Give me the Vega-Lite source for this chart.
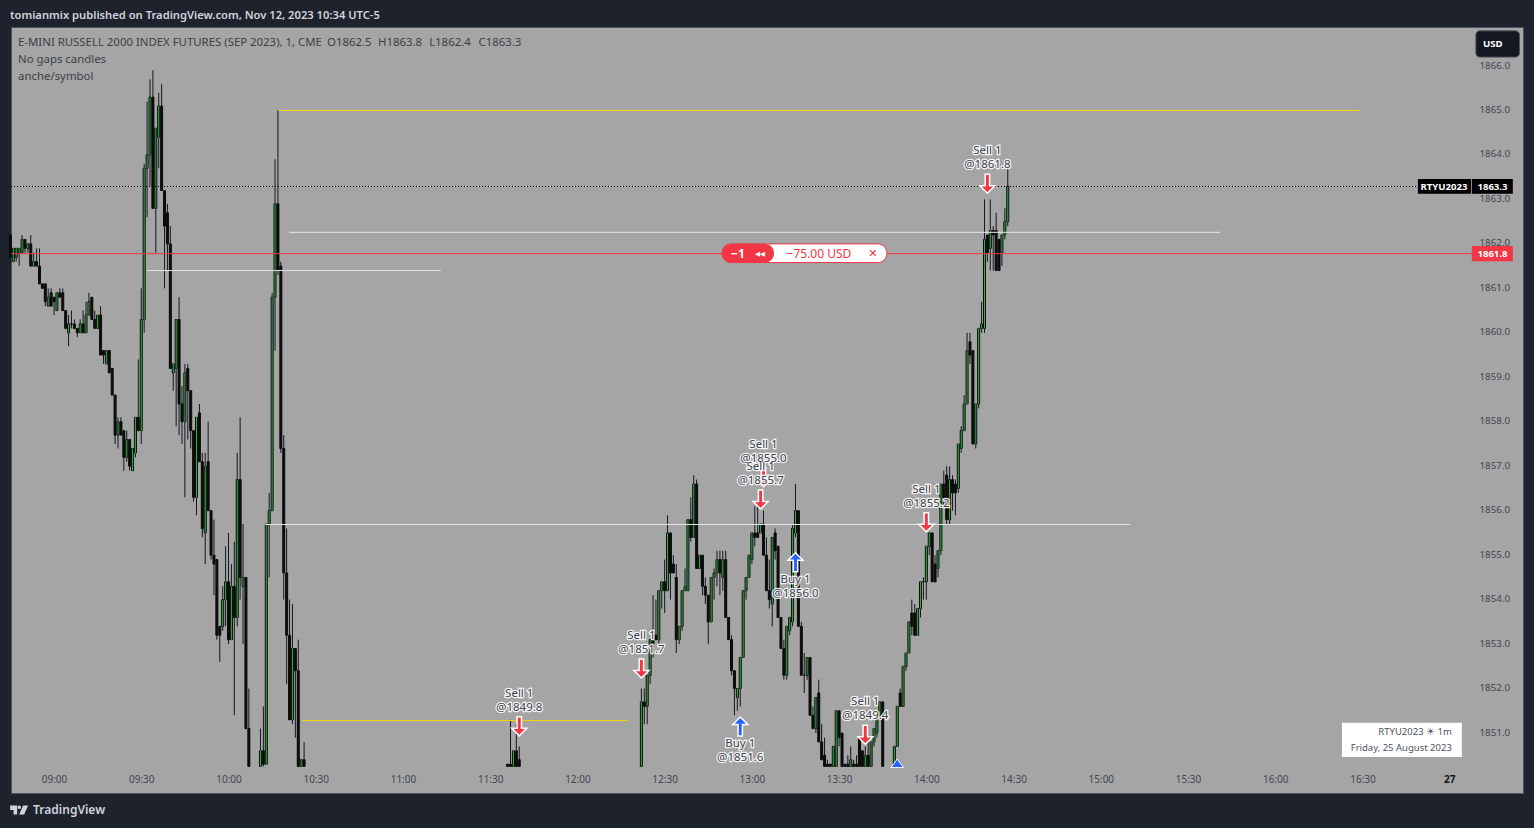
{
"$schema":"https://vega.github.io/schema/vega-lite/v6.json",
"width":1512,"height":766,
"autosize":{"type":"none"},
"padding":{"left":11,"top":27,"right":11,"bottom":35},
"background":"#1e222d",
"view":{"fill":"#a5a5a5","stroke":"#50535e","strokeWidth":1},
"title":{"text":"tomianmix published on TradingView.com, Nov 12, 2023 10:34 UTC-5","anchor":"start","frame":"group","dx":-1,"offset":6,"font":"Noto Sans","fontSize":11.2,"fontWeight":600,"color":"#d1d4dc"},
"datasets":{
"candles":[
{"t":"2023-08-25T08:45","o":1862.2,"h":1862.2,"l":1861.7,"c":1861.7},
{"t":"2023-08-25T08:46","o":1861.6,"h":1861.9,"l":1861.6,"c":1861.9},
{"t":"2023-08-25T08:47","o":1861.7,"h":1861.9,"l":1861.6,"c":1861.9},
{"t":"2023-08-25T08:48","o":1861.8,"h":1861.9,"l":1861.5,"c":1861.9},
{"t":"2023-08-25T08:49","o":1861.8,"h":1862.2,"l":1861.8,"c":1862.1},
{"t":"2023-08-25T08:50","o":1862.1,"h":1862.1,"l":1861.8,"c":1861.9},
{"t":"2023-08-25T08:51","o":1861.9,"h":1862.0,"l":1861.8,"c":1862.0},
{"t":"2023-08-25T08:52","o":1862.0,"h":1862.2,"l":1861.5,"c":1861.5},
{"t":"2023-08-25T08:53","o":1861.5,"h":1861.8,"l":1861.5,"c":1861.6},
{"t":"2023-08-25T08:54","o":1861.6,"h":1861.9,"l":1861.5,"c":1861.5},
{"t":"2023-08-25T08:55","o":1861.5,"h":1861.9,"l":1861.1,"c":1861.1},
{"t":"2023-08-25T08:56","o":1861.1,"h":1861.1,"l":1861.0,"c":1861.0},
{"t":"2023-08-25T08:57","o":1861.1,"h":1861.1,"l":1860.6,"c":1860.7},
{"t":"2023-08-25T08:58","o":1860.6,"h":1861.0,"l":1860.6,"c":1860.8},
{"t":"2023-08-25T08:59","o":1860.9,"h":1861.0,"l":1860.6,"c":1860.6},
{"t":"2023-08-25T09:00","o":1860.8,"h":1860.8,"l":1860.4,"c":1860.7},
{"t":"2023-08-25T09:01","o":1860.5,"h":1860.9,"l":1860.5,"c":1860.9},
{"t":"2023-08-25T09:02","o":1860.9,"h":1861.0,"l":1860.8,"c":1860.8},
{"t":"2023-08-25T09:03","o":1860.9,"h":1861.0,"l":1860.5,"c":1860.5},
{"t":"2023-08-25T09:04","o":1860.5,"h":1860.5,"l":1860.1,"c":1860.1},
{"t":"2023-08-25T09:05","o":1860.0,"h":1860.4,"l":1859.7,"c":1860.2},
{"t":"2023-08-25T09:06","o":1860.2,"h":1860.5,"l":1860.1,"c":1860.2},
{"t":"2023-08-25T09:07","o":1860.2,"h":1860.3,"l":1860.1,"c":1860.1},
{"t":"2023-08-25T09:08","o":1860.1,"h":1860.1,"l":1859.9,"c":1860.0},
{"t":"2023-08-25T09:09","o":1860.0,"h":1860.3,"l":1860.0,"c":1860.2},
{"t":"2023-08-25T09:10","o":1860.2,"h":1860.5,"l":1860.0,"c":1860.0},
{"t":"2023-08-25T09:11","o":1860.0,"h":1860.7,"l":1860.0,"c":1860.4},
{"t":"2023-08-25T09:12","o":1860.4,"h":1860.9,"l":1860.4,"c":1860.7},
{"t":"2023-08-25T09:13","o":1860.8,"h":1860.8,"l":1860.3,"c":1860.3},
{"t":"2023-08-25T09:14","o":1860.3,"h":1860.5,"l":1860.1,"c":1860.1},
{"t":"2023-08-25T09:15","o":1860.1,"h":1860.4,"l":1860.1,"c":1860.4},
{"t":"2023-08-25T09:16","o":1860.4,"h":1860.6,"l":1859.5,"c":1859.5},
{"t":"2023-08-25T09:17","o":1859.6,"h":1859.6,"l":1859.3,"c":1859.5},
{"t":"2023-08-25T09:18","o":1859.3,"h":1859.6,"l":1859.3,"c":1859.6},
{"t":"2023-08-25T09:19","o":1859.6,"h":1859.6,"l":1859.1,"c":1859.1},
{"t":"2023-08-25T09:20","o":1859.2,"h":1859.2,"l":1858.6,"c":1858.6},
{"t":"2023-08-25T09:21","o":1858.6,"h":1858.6,"l":1857.5,"c":1857.7},
{"t":"2023-08-25T09:22","o":1857.7,"h":1858.1,"l":1857.4,"c":1858.0},
{"t":"2023-08-25T09:23","o":1858.0,"h":1858.1,"l":1857.7,"c":1857.7},
{"t":"2023-08-25T09:24","o":1857.8,"h":1857.8,"l":1856.9,"c":1857.2},
{"t":"2023-08-25T09:25","o":1857.2,"h":1857.8,"l":1857.1,"c":1857.6},
{"t":"2023-08-25T09:26","o":1857.6,"h":1857.6,"l":1856.9,"c":1857.0},
{"t":"2023-08-25T09:27","o":1856.9,"h":1857.4,"l":1856.9,"c":1857.4},
{"t":"2023-08-25T09:28","o":1857.3,"h":1858.1,"l":1857.2,"c":1858.1},
{"t":"2023-08-25T09:29","o":1858.1,"h":1859.4,"l":1857.8,"c":1857.8},
{"t":"2023-08-25T09:30","o":1857.8,"h":1861.0,"l":1857.5,"c":1860.3},
{"t":"2023-08-25T09:31","o":1860.3,"h":1863.8,"l":1860.0,"c":1863.7},
{"t":"2023-08-25T09:32","o":1863.7,"h":1865.2,"l":1862.6,"c":1864.0},
{"t":"2023-08-25T09:33","o":1864.0,"h":1865.7,"l":1863.3,"c":1865.3},
{"t":"2023-08-25T09:34","o":1865.3,"h":1865.9,"l":1862.8,"c":1862.8},
{"t":"2023-08-25T09:35","o":1862.8,"h":1864.6,"l":1861.8,"c":1864.6},
{"t":"2023-08-25T09:36","o":1864.4,"h":1865.4,"l":1863.7,"c":1865.1},
{"t":"2023-08-25T09:37","o":1865.1,"h":1865.6,"l":1863.2,"c":1863.2},
{"t":"2023-08-25T09:38","o":1863.2,"h":1863.2,"l":1861.0,"c":1862.4},
{"t":"2023-08-25T09:39","o":1862.7,"h":1862.9,"l":1861.4,"c":1862.0},
{"t":"2023-08-25T09:40","o":1862.0,"h":1862.4,"l":1859.2,"c":1859.2},
{"t":"2023-08-25T09:41","o":1859.1,"h":1859.3,"l":1858.7,"c":1859.3},
{"t":"2023-08-25T09:42","o":1859.2,"h":1860.3,"l":1857.9,"c":1860.3},
{"t":"2023-08-25T09:43","o":1860.3,"h":1860.8,"l":1857.7,"c":1858.4},
{"t":"2023-08-25T09:44","o":1858.4,"h":1858.8,"l":1857.5,"c":1858.0},
{"t":"2023-08-25T09:45","o":1858.0,"h":1859.3,"l":1856.3,"c":1859.1},
{"t":"2023-08-25T09:46","o":1859.2,"h":1859.3,"l":1857.6,"c":1858.7},
{"t":"2023-08-25T09:47","o":1858.7,"h":1858.7,"l":1857.4,"c":1857.8},
{"t":"2023-08-25T09:48","o":1857.8,"h":1857.8,"l":1856.2,"c":1856.3},
{"t":"2023-08-25T09:49","o":1856.3,"h":1858.1,"l":1855.9,"c":1858.1},
{"t":"2023-08-25T09:50","o":1858.2,"h":1858.4,"l":1857.1,"c":1857.1},
{"t":"2023-08-25T09:51","o":1857.1,"h":1857.3,"l":1855.4,"c":1855.6},
{"t":"2023-08-25T09:52","o":1855.5,"h":1857.3,"l":1854.8,"c":1857.0},
{"t":"2023-08-25T09:53","o":1857.1,"h":1858.0,"l":1856.0,"c":1856.0},
{"t":"2023-08-25T09:54","o":1856.0,"h":1856.0,"l":1854.9,"c":1855.0},
{"t":"2023-08-25T09:55","o":1855.0,"h":1855.8,"l":1854.1,"c":1854.8},
{"t":"2023-08-25T09:56","o":1854.9,"h":1854.9,"l":1853.1,"c":1853.2},
{"t":"2023-08-25T09:57","o":1853.4,"h":1853.4,"l":1852.6,"c":1853.2},
{"t":"2023-08-25T09:58","o":1853.4,"h":1854.3,"l":1853.3,"c":1854.0},
{"t":"2023-08-25T09:59","o":1854.0,"h":1855.2,"l":1853.4,"c":1854.4},
{"t":"2023-08-25T10:00","o":1854.4,"h":1855.5,"l":1853.0,"c":1853.1},
{"t":"2023-08-25T10:01","o":1853.1,"h":1854.8,"l":1853.1,"c":1854.3},
{"t":"2023-08-25T10:02","o":1854.3,"h":1855.3,"l":1851.4,"c":1853.6},
{"t":"2023-08-25T10:03","o":1853.6,"h":1857.3,"l":1853.4,"c":1856.7},
{"t":"2023-08-25T10:04","o":1856.7,"h":1858.1,"l":1854.0,"c":1854.5},
{"t":"2023-08-25T10:05","o":1854.3,"h":1855.7,"l":1853.0,"c":1854.5},
{"t":"2023-08-25T10:06","o":1854.5,"h":1854.5,"l":1851.1,"c":1851.1},
{"t":"2023-08-25T10:07","o":1851.1,"h":1852.0,"l":1850.25,"c":1850.25},
{"t":"2023-08-25T10:11","o":1850.25,"h":1851.1,"l":1850.25,"c":1850.6},
{"t":"2023-08-25T10:12","o":1850.6,"h":1851.6,"l":1850.25,"c":1850.3},
{"t":"2023-08-25T10:13","o":1850.3,"h":1855.7,"l":1850.3,"c":1855.7},
{"t":"2023-08-25T10:14","o":1855.7,"h":1856.4,"l":1854.5,"c":1856.0},
{"t":"2023-08-25T10:15","o":1856.0,"h":1860.9,"l":1856.0,"c":1860.8},
{"t":"2023-08-25T10:16","o":1860.8,"h":1863.9,"l":1859.6,"c":1862.9},
{"t":"2023-08-25T10:17","o":1862.9,"h":1865.0,"l":1861.3,"c":1861.4},
{"t":"2023-08-25T10:18","o":1861.5,"h":1861.6,"l":1857.3,"c":1857.4},
{"t":"2023-08-25T10:19","o":1857.4,"h":1857.7,"l":1854.0,"c":1854.6},
{"t":"2023-08-25T10:20","o":1854.6,"h":1855.6,"l":1852.1,"c":1853.2},
{"t":"2023-08-25T10:21","o":1853.2,"h":1854.0,"l":1851.3,"c":1851.3},
{"t":"2023-08-25T10:22","o":1851.3,"h":1853.9,"l":1851.2,"c":1852.9},
{"t":"2023-08-25T10:23","o":1852.9,"h":1852.9,"l":1850.9,"c":1852.4},
{"t":"2023-08-25T10:24","o":1852.4,"h":1853.1,"l":1850.25,"c":1850.25},
{"t":"2023-08-25T10:25","o":1850.25,"h":1850.4,"l":1850.25,"c":1850.4},
{"t":"2023-08-25T10:26","o":1850.4,"h":1850.8,"l":1850.25,"c":1850.25},
{"t":"2023-08-25T11:36","o":1850.3,"h":1850.3,"l":1850.25,"c":1850.25},
{"t":"2023-08-25T11:37","o":1850.3,"h":1851.3,"l":1850.25,"c":1850.25},
{"t":"2023-08-25T11:38","o":1850.25,"h":1850.6,"l":1850.25,"c":1850.6},
{"t":"2023-08-25T11:39","o":1850.6,"h":1851.2,"l":1850.25,"c":1850.25},
{"t":"2023-08-25T11:40","o":1850.4,"h":1850.7,"l":1850.25,"c":1850.25},
{"t":"2023-08-25T12:22","o":1850.25,"h":1852.0,"l":1850.25,"c":1851.7},
{"t":"2023-08-25T12:23","o":1851.7,"h":1852.0,"l":1851.2,"c":1851.6},
{"t":"2023-08-25T12:24","o":1851.6,"h":1852.3,"l":1851.2,"c":1852.3},
{"t":"2023-08-25T12:25","o":1852.3,"h":1853.1,"l":1852.1,"c":1853.1},
{"t":"2023-08-25T12:26","o":1853.1,"h":1854.1,"l":1852.7,"c":1853.0},
{"t":"2023-08-25T12:27","o":1853.2,"h":1854.0,"l":1853.1,"c":1853.1},
{"t":"2023-08-25T12:28","o":1853.1,"h":1854.2,"l":1853.0,"c":1854.2},
{"t":"2023-08-25T12:29","o":1854.2,"h":1854.4,"l":1853.8,"c":1854.4},
{"t":"2023-08-25T12:30","o":1854.4,"h":1854.9,"l":1853.7,"c":1854.2},
{"t":"2023-08-25T12:31","o":1854.2,"h":1855.9,"l":1854.2,"c":1855.5},
{"t":"2023-08-25T12:32","o":1855.5,"h":1855.5,"l":1854.0,"c":1854.6},
{"t":"2023-08-25T12:33","o":1854.8,"h":1855.0,"l":1854.6,"c":1854.6},
{"t":"2023-08-25T12:34","o":1854.5,"h":1854.8,"l":1852.8,"c":1853.1},
{"t":"2023-08-25T12:35","o":1853.1,"h":1853.4,"l":1853.0,"c":1853.4},
{"t":"2023-08-25T12:36","o":1853.4,"h":1854.2,"l":1853.3,"c":1854.2},
{"t":"2023-08-25T12:37","o":1854.2,"h":1854.7,"l":1854.2,"c":1854.3},
{"t":"2023-08-25T12:38","o":1854.2,"h":1855.8,"l":1854.2,"c":1855.8},
{"t":"2023-08-25T12:39","o":1855.8,"h":1856.3,"l":1855.3,"c":1855.4},
{"t":"2023-08-25T12:40","o":1855.4,"h":1856.8,"l":1855.4,"c":1856.6},
{"t":"2023-08-25T12:41","o":1856.6,"h":1856.7,"l":1854.7,"c":1854.7},
{"t":"2023-08-25T12:42","o":1854.7,"h":1855.0,"l":1854.7,"c":1855.0},
{"t":"2023-08-25T12:43","o":1855.0,"h":1855.0,"l":1854.1,"c":1854.3},
{"t":"2023-08-25T12:44","o":1854.3,"h":1854.5,"l":1853.9,"c":1854.1},
{"t":"2023-08-25T12:45","o":1854.1,"h":1854.1,"l":1853.0,"c":1853.5},
{"t":"2023-08-25T12:46","o":1853.5,"h":1854.5,"l":1853.5,"c":1854.5},
{"t":"2023-08-25T12:47","o":1854.5,"h":1854.7,"l":1854.0,"c":1854.6},
{"t":"2023-08-25T12:48","o":1854.6,"h":1855.1,"l":1854.3,"c":1854.9},
{"t":"2023-08-25T12:49","o":1854.9,"h":1855.1,"l":1854.1,"c":1854.6},
{"t":"2023-08-25T12:50","o":1854.5,"h":1855.1,"l":1854.2,"c":1854.9},
{"t":"2023-08-25T12:51","o":1854.9,"h":1855.1,"l":1853.6,"c":1853.6},
{"t":"2023-08-25T12:52","o":1853.6,"h":1853.6,"l":1853.1,"c":1853.1},
{"t":"2023-08-25T12:53","o":1853.1,"h":1853.2,"l":1852.3,"c":1852.4},
{"t":"2023-08-25T12:54","o":1852.4,"h":1852.4,"l":1851.4,"c":1852.0},
{"t":"2023-08-25T12:55","o":1851.8,"h":1852.0,"l":1851.5,"c":1852.0},
{"t":"2023-08-25T12:56","o":1852.0,"h":1852.7,"l":1851.6,"c":1852.7},
{"t":"2023-08-25T12:57","o":1852.7,"h":1854.2,"l":1852.7,"c":1854.2},
{"t":"2023-08-25T12:58","o":1854.2,"h":1854.5,"l":1854.0,"c":1854.5},
{"t":"2023-08-25T12:59","o":1854.5,"h":1855.0,"l":1854.5,"c":1855.0},
{"t":"2023-08-25T13:00","o":1854.9,"h":1855.5,"l":1854.8,"c":1855.5},
{"t":"2023-08-25T13:01","o":1855.5,"h":1856.1,"l":1855.2,"c":1855.4},
{"t":"2023-08-25T13:02","o":1855.5,"h":1856.1,"l":1855.4,"c":1855.4},
{"t":"2023-08-25T13:03","o":1855.5,"h":1855.7,"l":1855.5,"c":1855.7},
{"t":"2023-08-25T13:04","o":1855.7,"h":1856.0,"l":1855.0,"c":1855.0},
{"t":"2023-08-25T13:05","o":1855.0,"h":1855.4,"l":1854.2,"c":1854.2},
{"t":"2023-08-25T13:06","o":1854.2,"h":1854.9,"l":1853.8,"c":1854.0},
{"t":"2023-08-25T13:07","o":1853.9,"h":1855.4,"l":1853.4,"c":1855.4},
{"t":"2023-08-25T13:08","o":1855.5,"h":1855.6,"l":1854.9,"c":1855.1},
{"t":"2023-08-25T13:09","o":1855.2,"h":1855.2,"l":1853.6,"c":1853.6},
{"t":"2023-08-25T13:10","o":1853.6,"h":1853.6,"l":1852.9,"c":1852.9},
{"t":"2023-08-25T13:11","o":1852.9,"h":1853.1,"l":1852.2,"c":1852.3},
{"t":"2023-08-25T13:12","o":1852.3,"h":1853.4,"l":1852.2,"c":1853.4},
{"t":"2023-08-25T13:13","o":1853.3,"h":1853.6,"l":1853.2,"c":1853.6},
{"t":"2023-08-25T13:14","o":1853.5,"h":1855.7,"l":1853.4,"c":1855.6},
{"t":"2023-08-25T13:15","o":1855.5,"h":1856.6,"l":1855.4,"c":1856.0},
{"t":"2023-08-25T13:16","o":1856.0,"h":1856.0,"l":1853.4,"c":1853.4},
{"t":"2023-08-25T13:17","o":1853.4,"h":1853.5,"l":1852.3,"c":1852.3},
{"t":"2023-08-25T13:18","o":1852.3,"h":1852.8,"l":1851.9,"c":1852.3},
{"t":"2023-08-25T13:19","o":1852.3,"h":1852.7,"l":1852.2,"c":1852.7},
{"t":"2023-08-25T13:20","o":1852.7,"h":1852.7,"l":1851.4,"c":1851.4},
{"t":"2023-08-25T13:21","o":1851.4,"h":1851.6,"l":1851.1,"c":1851.1},
{"t":"2023-08-25T13:22","o":1851.1,"h":1851.8,"l":1851.0,"c":1851.8},
{"t":"2023-08-25T13:23","o":1851.9,"h":1852.2,"l":1850.8,"c":1850.8},
{"t":"2023-08-25T13:24","o":1850.8,"h":1851.2,"l":1850.4,"c":1850.4},
{"t":"2023-08-25T13:25","o":1850.5,"h":1850.9,"l":1850.25,"c":1850.25},
{"t":"2023-08-25T13:26","o":1850.3,"h":1850.4,"l":1850.25,"c":1850.25},
{"t":"2023-08-25T13:27","o":1850.3,"h":1850.3,"l":1850.25,"c":1850.25},
{"t":"2023-08-25T13:28","o":1850.25,"h":1850.7,"l":1850.25,"c":1850.7},
{"t":"2023-08-25T13:29","o":1850.25,"h":1851.5,"l":1850.25,"c":1851.5},
{"t":"2023-08-25T13:30","o":1851.5,"h":1851.5,"l":1850.7,"c":1850.9},
{"t":"2023-08-25T13:31","o":1851.0,"h":1851.0,"l":1850.25,"c":1850.25},
{"t":"2023-08-25T13:32","o":1850.3,"h":1850.3,"l":1850.25,"c":1850.25},
{"t":"2023-08-25T13:33","o":1850.3,"h":1850.5,"l":1850.25,"c":1850.25},
{"t":"2023-08-25T13:34","o":1850.25,"h":1850.7,"l":1850.25,"c":1850.4},
{"t":"2023-08-25T13:35","o":1850.3,"h":1850.4,"l":1850.25,"c":1850.25},
{"t":"2023-08-25T13:36","o":1850.3,"h":1850.5,"l":1850.25,"c":1850.25},
{"t":"2023-08-25T13:37","o":1850.9,"h":1850.9,"l":1850.25,"c":1850.25},
{"t":"2023-08-25T13:38","o":1850.6,"h":1850.6,"l":1850.25,"c":1850.25},
{"t":"2023-08-25T13:39","o":1850.25,"h":1850.7,"l":1850.25,"c":1850.5},
{"t":"2023-08-25T13:40","o":1850.5,"h":1850.8,"l":1850.25,"c":1850.25},
{"t":"2023-08-25T13:41","o":1850.25,"h":1850.8,"l":1850.25,"c":1850.8},
{"t":"2023-08-25T13:42","o":1850.8,"h":1851.1,"l":1850.7,"c":1851.1},
{"t":"2023-08-25T13:43","o":1851.0,"h":1851.4,"l":1850.9,"c":1851.4},
{"t":"2023-08-25T13:44","o":1851.4,"h":1851.7,"l":1851.3,"c":1851.7},
{"t":"2023-08-25T13:45","o":1851.7,"h":1851.7,"l":1850.25,"c":1850.25},
{"t":"2023-08-25T13:49","o":1850.25,"h":1850.7,"l":1850.25,"c":1850.7},
{"t":"2023-08-25T13:50","o":1850.7,"h":1851.6,"l":1850.7,"c":1851.6},
{"t":"2023-08-25T13:51","o":1851.9,"h":1852.0,"l":1851.6,"c":1851.6},
{"t":"2023-08-25T13:52","o":1851.6,"h":1852.5,"l":1851.6,"c":1852.5},
{"t":"2023-08-25T13:53","o":1852.5,"h":1852.8,"l":1852.4,"c":1852.8},
{"t":"2023-08-25T13:54","o":1852.8,"h":1853.5,"l":1852.8,"c":1853.5},
{"t":"2023-08-25T13:55","o":1853.7,"h":1854.0,"l":1853.2,"c":1853.4},
{"t":"2023-08-25T13:56","o":1853.7,"h":1853.9,"l":1853.2,"c":1853.2},
{"t":"2023-08-25T13:57","o":1853.2,"h":1853.8,"l":1853.2,"c":1853.8},
{"t":"2023-08-25T13:58","o":1853.8,"h":1854.4,"l":1853.6,"c":1854.4},
{"t":"2023-08-25T13:59","o":1854.4,"h":1854.5,"l":1854.0,"c":1854.4},
{"t":"2023-08-25T14:00","o":1854.4,"h":1855.2,"l":1854.0,"c":1855.2},
{"t":"2023-08-25T14:01","o":1855.2,"h":1855.5,"l":1855.0,"c":1855.5},
{"t":"2023-08-25T14:02","o":1855.5,"h":1855.5,"l":1854.4,"c":1854.4},
{"t":"2023-08-25T14:03","o":1854.8,"h":1855.0,"l":1854.4,"c":1854.4},
{"t":"2023-08-25T14:04","o":1854.7,"h":1855.1,"l":1854.5,"c":1855.1},
{"t":"2023-08-25T14:05","o":1855.1,"h":1856.6,"l":1855.0,"c":1856.6},
{"t":"2023-08-25T14:06","o":1856.6,"h":1856.9,"l":1856.1,"c":1856.3},
{"t":"2023-08-25T14:07","o":1856.8,"h":1857.0,"l":1855.7,"c":1855.8},
{"t":"2023-08-25T14:08","o":1855.8,"h":1857.0,"l":1855.7,"c":1856.7},
{"t":"2023-08-25T14:09","o":1856.7,"h":1856.8,"l":1856.0,"c":1856.4},
{"t":"2023-08-25T14:10","o":1856.6,"h":1856.7,"l":1855.9,"c":1856.4},
{"t":"2023-08-25T14:11","o":1856.5,"h":1857.5,"l":1856.4,"c":1857.5},
{"t":"2023-08-25T14:12","o":1857.4,"h":1857.9,"l":1857.3,"c":1857.8},
{"t":"2023-08-25T14:13","o":1857.8,"h":1858.6,"l":1857.8,"c":1858.4},
{"t":"2023-08-25T14:14","o":1858.4,"h":1860.0,"l":1858.4,"c":1859.6},
{"t":"2023-08-25T14:15","o":1859.8,"h":1860.0,"l":1859.3,"c":1859.5},
{"t":"2023-08-25T14:16","o":1859.6,"h":1859.6,"l":1857.5,"c":1857.5},
{"t":"2023-08-25T14:17","o":1857.5,"h":1858.4,"l":1857.4,"c":1858.4},
{"t":"2023-08-25T14:18","o":1858.4,"h":1860.1,"l":1858.3,"c":1860.1},
{"t":"2023-08-25T14:19","o":1860.1,"h":1860.7,"l":1860.0,"c":1860.2},
{"t":"2023-08-25T14:20","o":1860.1,"h":1863.0,"l":1860.0,"c":1862.1},
{"t":"2023-08-25T14:21","o":1862.2,"h":1862.2,"l":1861.6,"c":1861.8},
{"t":"2023-08-25T14:22","o":1861.9,"h":1863.0,"l":1861.4,"c":1862.3},
{"t":"2023-08-25T14:23","o":1862.3,"h":1862.4,"l":1861.4,"c":1862.2},
{"t":"2023-08-25T14:24","o":1862.3,"h":1862.7,"l":1861.4,"c":1861.4},
{"t":"2023-08-25T14:25","o":1862.1,"h":1862.1,"l":1861.4,"c":1861.4},
{"t":"2023-08-25T14:26","o":1861.8,"h":1862.2,"l":1861.5,"c":1862.2},
{"t":"2023-08-25T14:27","o":1862.2,"h":1862.8,"l":1862.1,"c":1862.5},
{"t":"2023-08-25T14:28","o":1862.5,"h":1863.8,"l":1862.4,"c":1863.3}
],
"levels":[
{"t":"2023-08-25T10:17:22","t2":"2023-08-25T16:29:00","p":1865.0,"kind":"yellow"},
{"t":"2023-08-25T09:32:00","t2":"2023-08-25T11:13:00","p":1861.4,"kind":"white"},
{"t":"2023-08-25T10:20:48","t2":"2023-08-25T15:41:00","p":1862.26,"kind":"white"},
{"t":"2023-08-25T10:12:36","t2":"2023-08-25T15:10:00","p":1855.69,"kind":"white"},
{"t":"2023-08-25T10:25:18","t2":"2023-08-25T12:17:24","p":1851.28,"kind":"yellow"}
],
"pricelines":[
{"t":"2023-08-25T08:45:12","t2":"2023-08-25T16:49:03","p":1863.29,"kind":"last"},
{"t":"2023-08-25T08:45:12","t2":"2023-08-25T17:07:36","p":1861.78,"kind":"position"}
],
"boxes":[
{"t":"2023-08-25T17:09:00","t2":"2023-08-25T17:24:00","p":1866.79,"p2":1866.2,"kind":"currency"},
{"t":"2023-08-25T16:22:56","t2":"2023-08-25T17:04:10","p":1851.23,"p2":1850.46,"kind":"caption"},
{"t":"2023-08-25T16:49:03","t2":"2023-08-25T17:07:18","p":1863.46,"p2":1863.13,"kind":"last"},
{"t":"2023-08-25T17:07:36","t2":"2023-08-25T17:21:42","p":1863.46,"p2":1863.13,"kind":"last"},
{"t":"2023-08-25T17:07:36","t2":"2023-08-25T17:21:42","p":1861.95,"p2":1861.61,"kind":"position"}
],
"pill":[
{"t":"2023-08-25T12:49:42","t2":"2023-08-25T13:46:24","p":1862.0,"p2":1861.58,"kind":"body"},
{"t":"2023-08-25T12:49:42","t2":"2023-08-25T13:07:36","p":1862.0,"p2":1861.58,"kind":"side"}
],
"trades":[
{"t":"2023-08-25T11:40","p":1851.14,"side":"Sell","label":"Sell 1\n@1849.8"},
{"t":"2023-08-25T12:22","p":1852.44,"side":"Sell","label":"Sell 1\n@1851.7"},
{"t":"2023-08-25T13:04","p":1856.74,"side":"Sell","label":"Sell 1\n@1855.0"},
{"t":"2023-08-25T13:03","p":1856.24,"side":"Sell","label":"Sell 1\n@1855.7"},
{"t":"2023-08-25T13:39","p":1850.95,"side":"Sell","label":"Sell 1\n@1849.4"},
{"t":"2023-08-25T14:00","p":1855.73,"side":"Sell","label":"Sell 1\n@1855.2"},
{"t":"2023-08-25T14:21","p":1863.34,"side":"Sell","label":"Sell 1\n@1861.8"},
{"t":"2023-08-25T12:56","p":1851.16,"side":"Buy","label":"Buy 1\n@1851.6"},
{"t":"2023-08-25T13:15","p":1854.85,"side":"Buy","label":"Buy 1\n@1856.0"}
],
"cutbuy":[{"t":"2023-08-25T13:50","p":1850.32}],
"notes":[
{"t":"2023-08-25T08:47:37","p":1866.52,"label":"E-MINI RUSSELL 2000 INDEX FUTURES (SEP 2023), 1, CME","kind":"legend"},
{"t":"2023-08-25T10:33:54","p":1866.52,"label":"O1862.5","kind":"legend"},
{"t":"2023-08-25T10:51:24","p":1866.52,"label":"H1863.8","kind":"legend"},
{"t":"2023-08-25T11:09:00","p":1866.52,"label":"L1862.4","kind":"legend"},
{"t":"2023-08-25T11:26:00","p":1866.52,"label":"C1863.3","kind":"legend"},
{"t":"2023-08-25T08:47:37","p":1866.14,"label":"No gaps candles","kind":"legend"},
{"t":"2023-08-25T08:47:37","p":1865.76,"label":"anche/symbol","kind":"legend"},
{"t":"2023-08-25T17:00:44","p":1851.02,"label":"RTYU2023 ☀ 1m","kind":"caption"},
{"t":"2023-08-25T17:00:44","p":1850.66,"label":"Friday, 25 August 2023","kind":"caption"},
{"t":"2023-08-25T17:14:50","p":1866.49,"label":"USD","kind":"tag"},
{"t":"2023-08-25T16:58:00","p":1863.27,"label":"RTYU2023","kind":"tag"},
{"t":"2023-08-25T17:14:42","p":1863.27,"label":"1863.3","kind":"tag"},
{"t":"2023-08-25T17:14:42","p":1861.77,"label":"1861.8","kind":"tag"},
{"t":"2023-08-25T12:55:12","p":1861.77,"label":"−1","kind":"pillnum"},
{"t":"2023-08-25T13:02:48","p":1861.77,"label":"◀◀","kind":"rewind"},
{"t":"2023-08-25T13:23:04","p":1861.77,"label":"−75.00 USD","kind":"pnl"},
{"t":"2023-08-25T13:41:36","p":1861.77,"label":"✕","kind":"closex"},
{"t":"2023-08-25T17:00:00","p":1849.955,"label":"27","kind":"daymark"}
],
"brand":[{"t":"2023-08-25T08:52:48","p":1849.27,"label":"TradingView"}],
"logo":[{"t":"2023-08-25T08:48:00","p":1849.27}]
},
"encoding":{
"x":{"field":"t","type":"temporal","scale":{"padding":0,"domain":[{"year":2023,"month":8,"date":25,"hours":8,"minutes":45,"seconds":12},{"year":2023,"month":8,"date":25,"hours":17,"minutes":25,"seconds":12}]},
"axis":{"title":null,"orient":"bottom","offset":-19,"domain":false,"ticks":false,"grid":false,"labelPadding":0,"labelFont":"Noto Sans","labelFontSize":10,"labelColor":"#434651","format":"%H:%M","values":[
{"year":2023,"month":8,"date":25,"hours":9,"minutes":0},{"year":2023,"month":8,"date":25,"hours":9,"minutes":30},{"year":2023,"month":8,"date":25,"hours":10,"minutes":0},{"year":2023,"month":8,"date":25,"hours":10,"minutes":30},{"year":2023,"month":8,"date":25,"hours":11,"minutes":0},{"year":2023,"month":8,"date":25,"hours":11,"minutes":30},{"year":2023,"month":8,"date":25,"hours":12,"minutes":0},{"year":2023,"month":8,"date":25,"hours":12,"minutes":30},{"year":2023,"month":8,"date":25,"hours":13,"minutes":0},{"year":2023,"month":8,"date":25,"hours":13,"minutes":30},{"year":2023,"month":8,"date":25,"hours":14,"minutes":0},{"year":2023,"month":8,"date":25,"hours":14,"minutes":30},{"year":2023,"month":8,"date":25,"hours":15,"minutes":0},{"year":2023,"month":8,"date":25,"hours":15,"minutes":30},{"year":2023,"month":8,"date":25,"hours":16,"minutes":0},{"year":2023,"month":8,"date":25,"hours":16,"minutes":30}]}},
"y":{"field":"p","type":"quantitative","scale":{"domain":[1849.652,1866.877],"nice":false,"zero":false},
"axis":{"title":null,"orient":"right","offset":-44,"domain":false,"ticks":false,"grid":false,"labelPadding":0,"labelFont":"Noto Sans","labelFontSize":9.8,"labelColor":"#434651","labelAlign":"left","labelOffset":-1,"format":".1f","values":[1851,1852,1853,1854,1855,1856,1857,1858,1859,1860,1861,1862,1863,1864,1865,1866]}}
},
"layer":[
{"data":{"name":"candles"},"mark":{"type":"rule","color":"#131722","strokeWidth":1},
 "encoding":{"y":{"field":"l","type":"quantitative","title":null,"axis":{"title":null,"orient":"right","offset":-44,"domain":false,"ticks":false,"grid":false,"labelPadding":0,"labelFont":"Noto Sans","labelFontSize":9.8,"labelColor":"#434651","labelAlign":"left","labelOffset":-1,"format":".1f","values":[1851,1852,1853,1854,1855,1856,1857,1858,1859,1860,1861,1862,1863,1864,1865,1866]},"scale":{"domain":[1849.652,1866.877],"nice":false,"zero":false}},"y2":{"field":"h"}}},
{"data":{"name":"candles"},"mark":{"type":"bar","size":2,"fill":"#0c0c0c","stroke":"#0c0c0c","strokeWidth":1},
 "encoding":{"y":{"field":"o","type":"quantitative","title":null,"axis":{"title":null,"orient":"right","offset":-44,"domain":false,"ticks":false,"grid":false,"labelPadding":0,"labelFont":"Noto Sans","labelFontSize":9.8,"labelColor":"#434651","labelAlign":"left","labelOffset":-1,"format":".1f","values":[1851,1852,1853,1854,1855,1856,1857,1858,1859,1860,1861,1862,1863,1864,1865,1866]},"scale":{"domain":[1849.652,1866.877],"nice":false,"zero":false}},"y2":{"field":"c"}}},
{"data":{"name":"candles"},"transform":[{"filter":"datum.c>datum.o"}],"mark":{"type":"bar","size":1,"fill":"#2fb344"},
 "encoding":{"y":{"field":"o","type":"quantitative","title":null,"axis":{"title":null,"orient":"right","offset":-44,"domain":false,"ticks":false,"grid":false,"labelPadding":0,"labelFont":"Noto Sans","labelFontSize":9.8,"labelColor":"#434651","labelAlign":"left","labelOffset":-1,"format":".1f","values":[1851,1852,1853,1854,1855,1856,1857,1858,1859,1860,1861,1862,1863,1864,1865,1866]},"scale":{"domain":[1849.652,1866.877],"nice":false,"zero":false}},"y2":{"field":"c"}}},
{"data":{"name":"levels"},"transform":[{"filter":"datum.kind=='yellow'"}],"mark":{"type":"rule","strokeWidth":1,"color":"#f5d90a"},"encoding":{"x2":{"field":"t2"}}},
{"data":{"name":"levels"},"transform":[{"filter":"datum.kind=='white'"}],"mark":{"type":"rule","strokeWidth":1,"color":"#e6e6e6"},"encoding":{"x2":{"field":"t2"}}},
{"data":{"name":"pricelines"},"transform":[{"filter":"datum.kind=='last'"}],"mark":{"type":"rule","color":"#000000","strokeWidth":1,"strokeDash":[1,2]},"encoding":{"x2":{"field":"t2"}}},
{"data":{"name":"pricelines"},"transform":[{"filter":"datum.kind=='position'"}],"mark":{"type":"rule","color":"#f23645","strokeWidth":1},"encoding":{"x2":{"field":"t2"}}},
{"data":{"name":"boxes"},"transform":[{"filter":"datum.kind=='currency'"}],"mark":{"type":"rect","fill":"#131722","stroke":"#50535e","strokeWidth":1,"cornerRadius":4},"encoding":{"x2":{"field":"t2"},"y2":{"field":"p2"}}},
{"data":{"name":"boxes"},"transform":[{"filter":"datum.kind=='caption'"}],"mark":{"type":"rect","fill":"#ffffff"},"encoding":{"x2":{"field":"t2"},"y2":{"field":"p2"}}},
{"data":{"name":"boxes"},"transform":[{"filter":"datum.kind=='last'"}],"mark":{"type":"rect","fill":"#000000"},"encoding":{"x2":{"field":"t2"},"y2":{"field":"p2"}}},
{"data":{"name":"boxes"},"transform":[{"filter":"datum.kind=='position'"}],"mark":{"type":"rect","fill":"#f23645"},"encoding":{"x2":{"field":"t2"},"y2":{"field":"p2"}}},
{"data":{"name":"pill"},"transform":[{"filter":"datum.kind=='body'"}],"mark":{"type":"rect","fill":"#ffffff","stroke":"#f23645","strokeWidth":1,"cornerRadius":9},"encoding":{"x2":{"field":"t2"},"y2":{"field":"p2"}}},
{"data":{"name":"pill"},"transform":[{"filter":"datum.kind=='side'"}],"mark":{"type":"rect","fill":"#f23645","cornerRadius":9},"encoding":{"x2":{"field":"t2"},"y2":{"field":"p2"}}},
{"data":{"name":"trades"},"transform":[{"filter":"datum.side=='Sell'"}],"mark":{"type":"point","filled":true,"size":400,"fill":"#f23645","stroke":"#ffffff","strokeWidth":1.5,"opacity":1,"shape":"M-0.22,-1L0.22,-1L0.22,0.15L0.75,0.15L0,0.9L-0.75,0.15L-0.22,0.15Z"},"encoding":{}},
{"data":{"name":"trades"},"transform":[{"filter":"datum.side=='Buy'"}],"mark":{"type":"point","filled":true,"size":400,"fill":"#2962ff","stroke":"#ffffff","strokeWidth":1.5,"opacity":1,"shape":"M-0.22,1L0.22,1L0.22,-0.15L0.75,-0.15L0,-0.9L-0.75,-0.15L-0.22,-0.15Z"},"encoding":{}},
{"data":{"name":"cutbuy"},"mark":{"type":"point","filled":true,"size":200,"fill":"#2962ff","stroke":"#ffffff","strokeWidth":1,"opacity":1,"shape":"M0,-0.6L0.9,0.6L-0.9,0.6Z"},"encoding":{}},
{"data":{"name":"trades"},"transform":[{"filter":"datum.side=='Sell'"}],"mark":{"type":"text","font":"Noto Sans","fontSize":11.5,"lineBreak":"\n","lineHeight":14,"align":"center","baseline":"bottom","dy":-28,"stroke":"#ffffff","strokeWidth":2.5,"strokeOpacity":0.9},"encoding":{"text":{"field":"label"}}},
{"data":{"name":"trades"},"transform":[{"filter":"datum.side=='Sell'"}],"mark":{"type":"text","font":"Noto Sans","fontSize":11.5,"lineBreak":"\n","lineHeight":14,"align":"center","baseline":"bottom","dy":-28,"color":"#434651"},"encoding":{"text":{"field":"label"}}},
{"data":{"name":"trades"},"transform":[{"filter":"datum.side=='Buy'"}],"mark":{"type":"text","font":"Noto Sans","fontSize":11.5,"lineBreak":"\n","lineHeight":14,"align":"center","baseline":"top","dy":12,"stroke":"#ffffff","strokeWidth":2.5,"strokeOpacity":0.9},"encoding":{"text":{"field":"label"}}},
{"data":{"name":"trades"},"transform":[{"filter":"datum.side=='Buy'"}],"mark":{"type":"text","font":"Noto Sans","fontSize":11.5,"lineBreak":"\n","lineHeight":14,"align":"center","baseline":"top","dy":12,"color":"#434651"},"encoding":{"text":{"field":"label"}}},
{"data":{"name":"notes"},"transform":[{"filter":"datum.kind=='legend'"}],"mark":{"type":"text","font":"Noto Sans","fontSize":11.4,"align":"left","baseline":"middle","color":"#3c3f47"},"encoding":{"text":{"field":"label"}}},
{"data":{"name":"notes"},"transform":[{"filter":"datum.kind=='caption'"}],"mark":{"type":"text","font":"Noto Sans","fontSize":9.5,"align":"right","baseline":"middle","color":"#50535e"},"encoding":{"text":{"field":"label"}}},
{"data":{"name":"notes"},"transform":[{"filter":"datum.kind=='tag'"}],"mark":{"type":"text","font":"Noto Sans","fontSize":9.6,"fontWeight":"bold","align":"center","baseline":"middle","color":"#ffffff"},"encoding":{"text":{"field":"label"}}},
{"data":{"name":"notes"},"transform":[{"filter":"datum.kind=='pillnum'"}],"mark":{"type":"text","font":"Noto Sans","fontSize":12,"fontWeight":"bold","align":"center","baseline":"middle","color":"#ffffff"},"encoding":{"text":{"field":"label"}}},
{"data":{"name":"notes"},"transform":[{"filter":"datum.kind=='rewind'"}],"mark":{"type":"text","font":"DejaVu Sans","fontSize":6.5,"align":"center","baseline":"middle","color":"#ffffff"},"encoding":{"text":{"field":"label"}}},
{"data":{"name":"notes"},"transform":[{"filter":"datum.kind=='pnl'"}],"mark":{"type":"text","font":"Noto Sans","fontSize":12,"align":"center","baseline":"middle","color":"#f23645"},"encoding":{"text":{"field":"label"}}},
{"data":{"name":"notes"},"transform":[{"filter":"datum.kind=='closex'"}],"mark":{"type":"text","font":"DejaVu Sans","fontSize":11,"fontWeight":"bold","align":"center","baseline":"middle","color":"#f23645"},"encoding":{"text":{"field":"label"}}},
{"data":{"name":"notes"},"transform":[{"filter":"datum.kind=='daymark'"}],"mark":{"type":"text","font":"Noto Sans","fontSize":10,"fontWeight":"bold","align":"center","baseline":"middle","color":"#131722"},"encoding":{"text":{"field":"label"}}},
{"data":{"name":"brand"},"mark":{"type":"text","font":"Noto Sans","fontSize":12,"fontWeight":600,"align":"left","baseline":"middle","color":"#d1d4dc"},"encoding":{"text":{"field":"label"}}},
{"data":{"name":"logo"},"mark":{"type":"point","filled":true,"size":324,"fill":"#d1d4dc","opacity":1,"strokeWidth":0,"shape":"M-1,-0.5L-0.22,-0.5L-0.22,0.5L-0.62,0.5L-0.62,0L-1,0ZM-0.15,-0.47L0.19,-0.47L0.19,-0.13L-0.15,-0.13ZM0.45,-0.5L1,-0.5L0.55,0.5L0,0.5Z"},"encoding":{}}
]
}
